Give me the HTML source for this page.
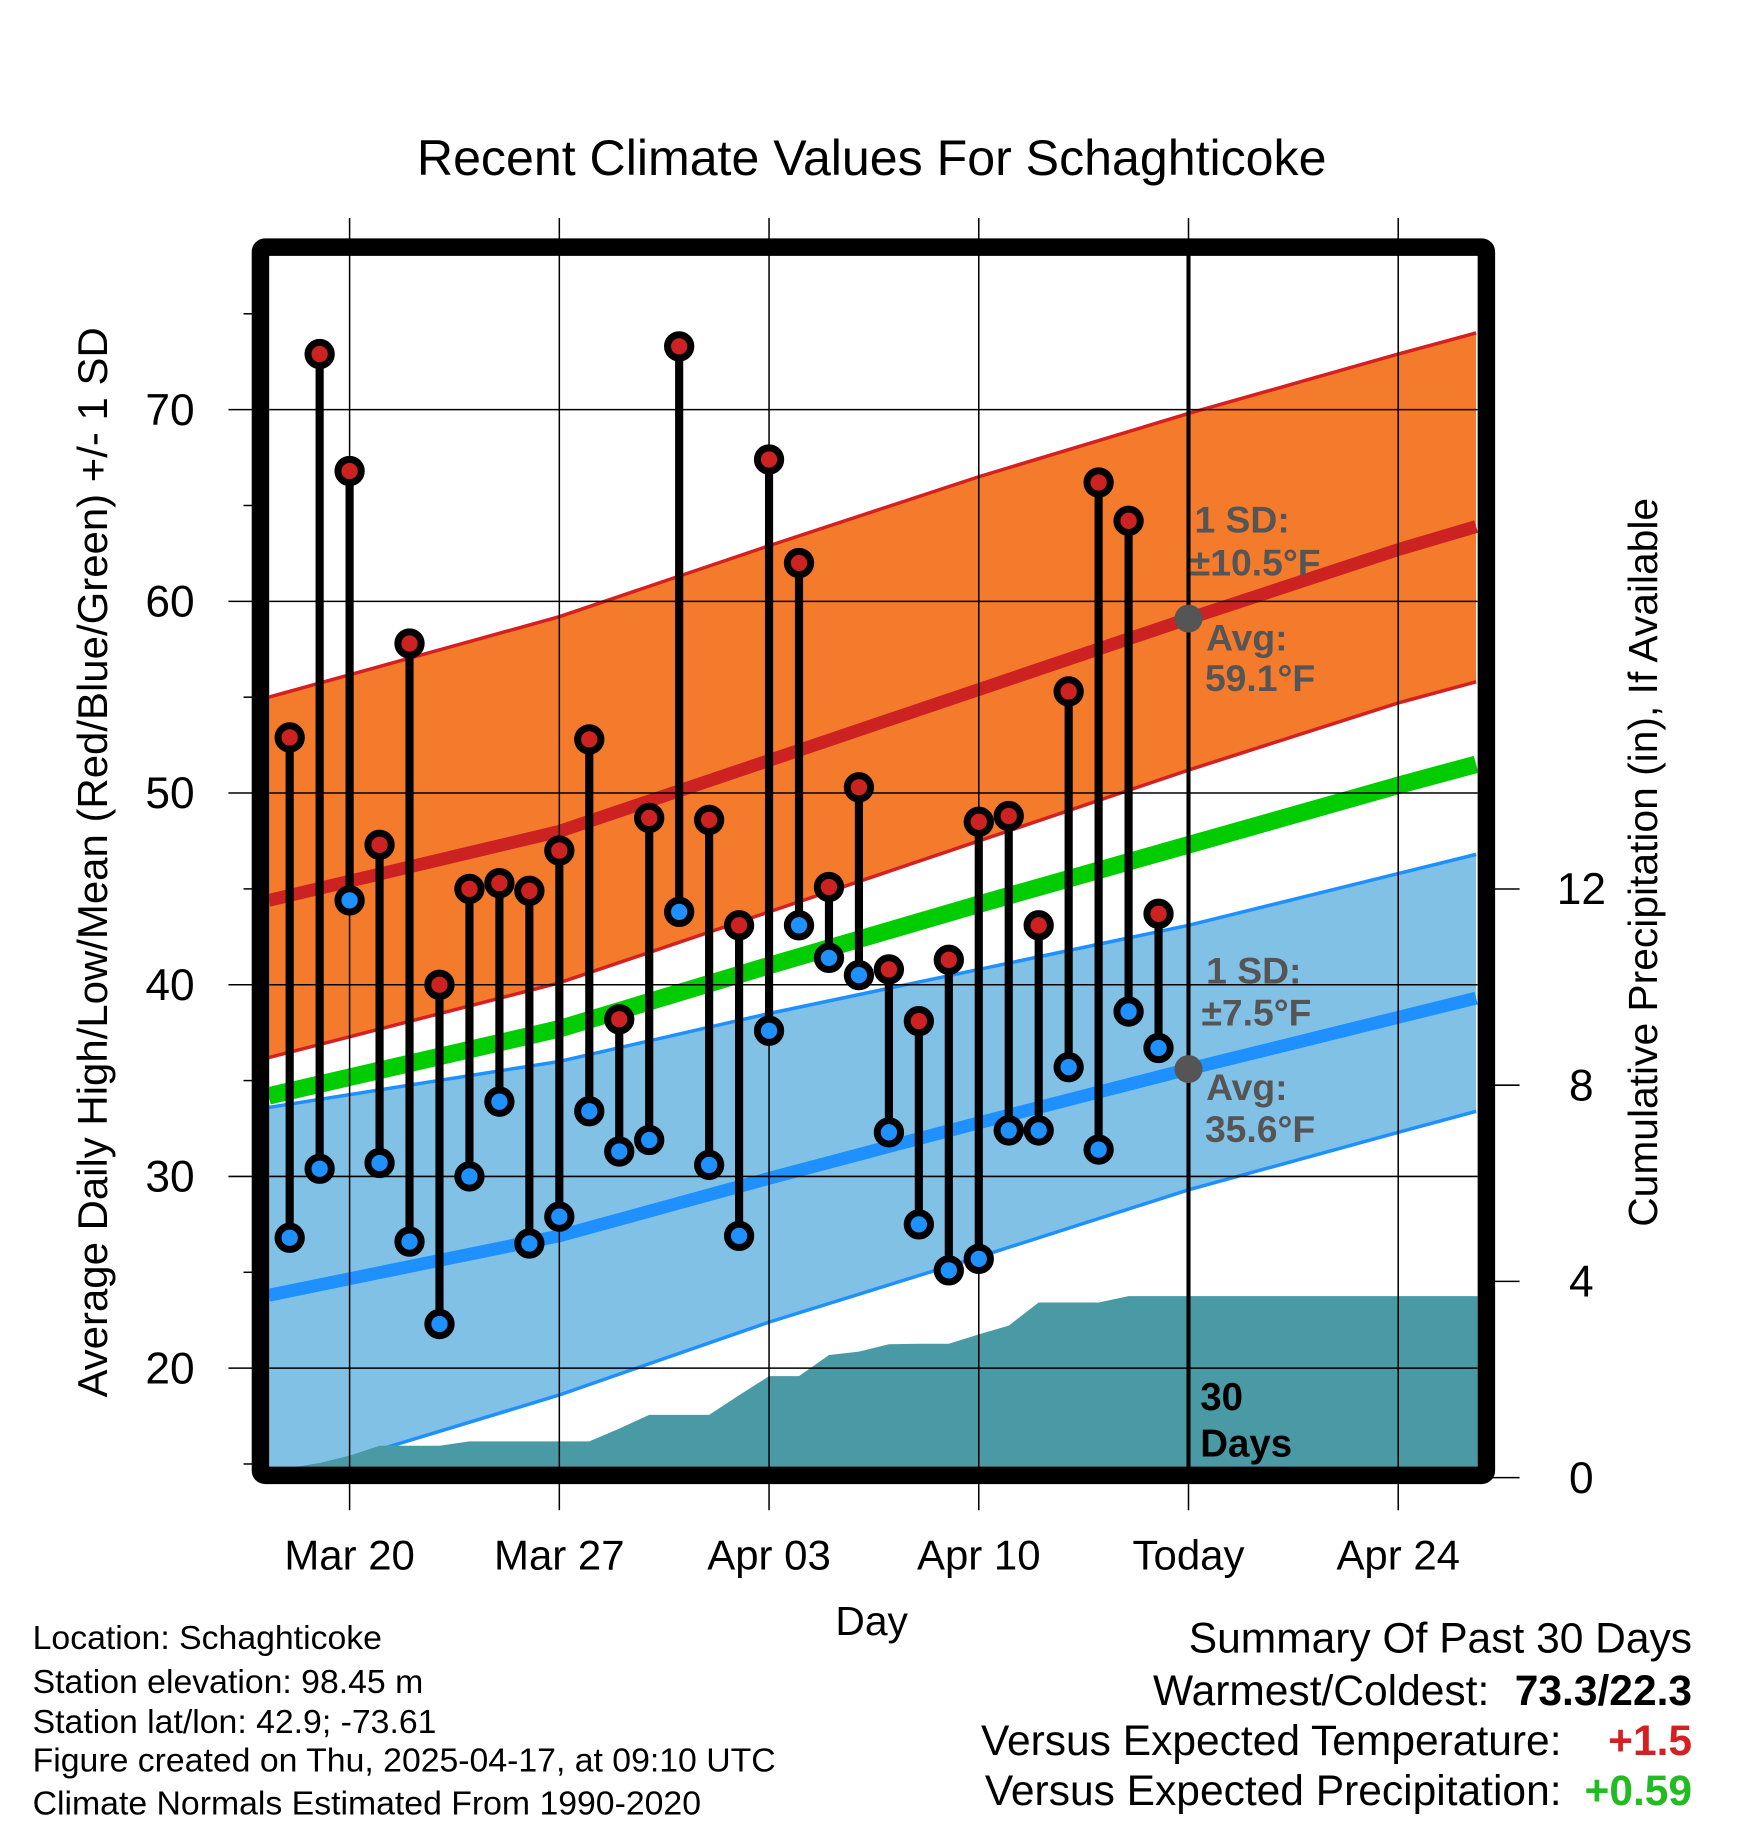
<!DOCTYPE html>
<html><head><meta charset="utf-8"><style>
html,body{margin:0;padding:0;background:#fff;}
svg{display:block;font-family:"Liberation Sans",Arial,sans-serif;}
</style></head><body>
<svg id="chart" width="1748" height="1828" viewBox="0 0 1500 1568.6" xmlns="http://www.w3.org/2000/svg">
<text x="748" y="150" font-size="43" text-anchor="middle">Recent Climate Values For Schaghticoke</text>
<g id="plot"></g>
<text transform="translate(92,740) rotate(-90)" font-size="36" text-anchor="middle">Average Daily High/Low/Mean (Red/Blue/Green) +/- 1 SD</text>
<text transform="translate(1422,740) rotate(-90)" font-size="35" text-anchor="middle">Cumulative Precipitation (in), If Available</text>
<text x="748" y="1403" font-size="35" text-anchor="middle">Day</text>
<g font-size="29">
<text x="28" y="1415">Location: Schaghticoke</text>
<text x="28" y="1453">Station elevation: 98.45 m</text>
<text x="28" y="1487">Station lat/lon: 42.9; -73.61</text>
<text x="28" y="1520">Figure created on Thu, 2025-04-17, at 09:10 UTC</text>
<text x="28" y="1557">Climate Normals Estimated From 1990-2020</text>
</g>
<g font-size="36.5">
<text x="1452" y="1418" text-anchor="end">Summary Of Past 30 Days</text>
<text x="1278" y="1463" text-anchor="end">Warmest/Coldest:</text>
<text x="1452" y="1463" text-anchor="end" font-weight="bold">73.3/22.3</text>
<text x="1340" y="1506" text-anchor="end">Versus Expected Temperature:</text>
<text x="1452" y="1506" text-anchor="end" font-weight="bold" fill="#d42020">+1.5</text>
<text x="1340" y="1549" text-anchor="end">Versus Expected Precipitation:</text>
<text x="1452" y="1549" text-anchor="end" font-weight="bold" fill="#22bb22">+0.59</text>
</g>
</svg>
<script>
// ---- data ----
const dayOffsets = [-2,-1,0,1,2,3,4,5,6,7,8,9,10,11,12,13,14,15,16,17,18,19,20,21,22,23,24,25,26,27];
const highs = [52.9,72.9,66.8,47.3,57.8,40.0,45.0,45.3,44.9,47.0,52.8,38.2,48.7,73.3,48.6,43.1,67.4,62.0,45.1,50.3,40.8,38.1,41.3,48.5,48.8,43.1,55.3,66.2,64.2,43.7];
const lows = [26.8,30.4,44.4,30.7,26.6,22.3,30.0,33.9,26.5,27.9,33.4,31.3,31.9,43.8,30.6,26.9,37.6,43.1,41.4,40.5,32.3,27.5,25.1,25.7,32.4,32.4,35.7,31.4,38.6,36.7];
const precipCum = [0.2,0.3,0.45,0.65,0.65,0.65,0.74,0.74,0.74,0.74,0.74,1.0,1.28,1.28,1.28,1.68,2.07,2.07,2.5,2.57,2.72,2.73,2.73,2.92,3.1,3.57,3.57,3.57,3.7,3.7];
const normDays = [-2.7,7,14,21,28,35,37.6];
const normHigh = [44.4,48.0,51.7,55.4,59.1,62.7,63.9];
const normHighUp = [55.0,59.2,62.9,66.5,69.8,72.9,74.0];
const normHighLo = [36.2,40.1,43.8,47.5,51.2,54.7,55.8];
const normMean = [34.2,37.7,41.0,44.2,47.3,50.4,51.5];
const normLow = [23.8,26.9,29.9,32.8,35.6,38.3,39.3];
const normLowUp = [33.6,36.0,38.5,40.8,43.1,45.8,46.8];
const normLowLo = [14.0,18.6,22.4,25.8,29.3,32.3,33.4];
const yTicks = [20,30,40,50,60,70];
const y2Ticks = [0,4,8,12];
const xTickDays = [0,7,14,21,28,35];
const xTickLabels = ["Mar 20","Mar 27","Apr 03","Apr 10","Today","Apr 24"];

// ---- axes ----
const L=231,R=1268,T=219,B=1259;
const x = d => 300 + d*25.71;
const y = v => 1174 - (v-20)*16.45;
const y2 = p => 1268 - p*42.1;
const NS="http://www.w3.org/2000/svg";
const g=document.getElementById('plot');
function mk(tag,attrs,parent){const e=document.createElementNS(NS,tag);for(const k in attrs)e.setAttribute(k,attrs[k]);(parent||g).appendChild(e);return e;}
const clip=mk('clipPath',{id:'pc'});mk('rect',{x:L,y:T,width:R-L,height:B-T},clip);
// outer gridline stubs (thin) above and below frame
xTickDays.forEach(d=>{mk('line',{x1:x(d),x2:x(d),y1:187,y2:1296,stroke:'#000','stroke-width':1.3});});
const inner=mk('g',{'clip-path':'url(#pc)'});


mk('rect',{x:L,y:T,width:R-L,height:B-T,fill:'#fff'},inner);

function band(up,lo,fill,stroke,name){
  let p='M'+normDays.map((d,i)=>x(d)+','+y(up[i])).join('L');
  p+='L'+normDays.slice().reverse().map((d,i)=>x(d)+','+y(lo[lo.length-1-i])).join('L')+'Z';
  const e=mk('path',{d:p,fill:fill},inner);
  
  
  [up,lo].forEach(a=>{mk('polyline',{points:normDays.map((d,i)=>x(d)+','+y(a[i])).join(' '),fill:'none',stroke:stroke,'stroke-width':3},inner);});
}
function line(a,col,w,name){
  const e=mk('polyline',{points:normDays.map((d,i)=>x(d)+','+y(a[i])).join(' '),fill:'none',stroke:col,'stroke-width':w},inner);
  
  
}
band(normHighUp,normHighLo,'#f47a2c','#d42020','high-sd-band');
band(normLowUp,normLowLo,'#82c1e6','#1e90ff','low-sd-band');
line(normHigh,'#cc2222',11,'normal-high-line');
line(normLow,'#1e90ff',11,'normal-low-line');
line(normMean,'#00cc00',15,'normal-mean-line');

// precip area
let pp='M'+L+','+B+'L'+L+','+y2(precipCum[0]);
dayOffsets.forEach((d,i)=>{pp+='L'+x(d)+','+y2(precipCum[i]);});
pp+='L'+R+','+y2(precipCum[precipCum.length-1])+'L'+R+','+B+'Z';
const pa=mk('path',{d:pp,fill:'#4a9aa5'},inner);



// gridlines
yTicks.forEach(v=>{mk('line',{x1:L,x2:R,y1:y(v),y2:y(v),stroke:'#000','stroke-width':1.3},inner);});
xTickDays.forEach((d,i)=>{
  const today=xTickLabels[i]==='Today';
  mk('line',{x1:x(d),x2:x(d),y1:T,y2:B,stroke:'#000','stroke-width':today?3.5:1.3},inner);
  const t=mk('text',{x:x(d),y:1347,'font-size':36,'text-anchor':'middle'});t.textContent=xTickLabels[i];
  
  
});
// y ticks
for(let v=15;v<=75;v+=5){const maj=v%10===0;mk('line',{x1:maj?196:209,x2:220,y1:y(v),y2:y(v),stroke:'#000','stroke-width':1.3});}
yTicks.forEach(v=>{const t=mk('text',{x:167,y:y(v)+13,'font-size':38,'text-anchor':'end'});t.textContent=v;
  
  });
y2Ticks.forEach(p=>{mk('line',{x1:1280,x2:1304,y1:y2(p),y2:y2(p),stroke:'#000','stroke-width':1.3});
  const t=mk('text',{x:1357,y:y2(p)+13,'font-size':38,'text-anchor':'middle'});t.textContent=p;
  
  });

// stems & markers
dayOffsets.forEach((d,i)=>{
  const s=mk('line',{x1:x(d),x2:x(d),y1:y(highs[i]),y2:y(lows[i]),stroke:'#000','stroke-width':7});
  
  
  const h=mk('circle',{cx:x(d),cy:y(highs[i]),r:10,fill:'#cc2222',stroke:'#000','stroke-width':6});
  
  
  const l=mk('circle',{cx:x(d),cy:y(lows[i]),r:10,fill:'#1e90ff',stroke:'#000','stroke-width':6});
  
  
});
// today markers
[normHigh[4],normLow[4]].forEach(v=>{const c=mk('circle',{cx:x(28),cy:y(v),r:12,fill:'#555'});
  
  });
// annotations
const ann=[["1 SD:",1025,457],["\u00b110.5\u00b0F",1021,494],["Avg:",1035,558],["59.1\u00b0F",1034,593],["1 SD:",1035,844],["\u00b17.5\u00b0F",1031,880],["Avg:",1035,944],["35.6\u00b0F",1034,980]];
ann.forEach(a=>{const t=mk('text',{x:a[1],y:a[2],'font-size':32,'font-weight':'bold',fill:'#555'});t.textContent=a[0];
  
  });
[["30",1030,1210],["Days",1030,1250]].forEach(a=>{const t=mk('text',{x:a[1],y:a[2],'font-size':33,'font-weight':'bold'});t.textContent=a[0];
  
  });
// frame
const fr=mk('rect',{x:223.5,y:212,width:1052,height:1054,fill:'none',stroke:'#000','stroke-width':15,rx:4});


</script>
</body></html>
